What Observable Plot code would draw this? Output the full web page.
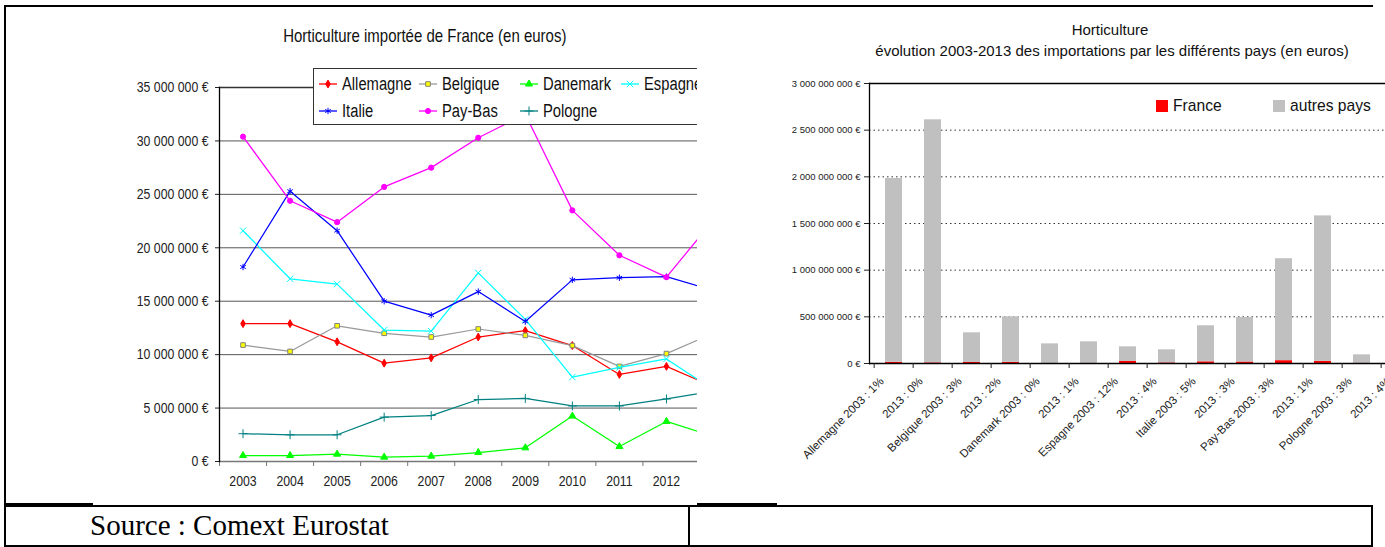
<!DOCTYPE html>
<html><head><meta charset="utf-8">
<script src="https://cdn.jsdelivr.net/npm/d3@7"></script>
<script src="https://cdn.jsdelivr.net/npm/@observablehq/plot@0.6"></script>
<style>
body{margin:0;background:#fff;}
#root{position:relative;width:1385px;height:547px;overflow:hidden;background:#fff;font-family:"Liberation Sans",Arial,sans-serif;color:#111;}
.abs{position:absolute;white-space:nowrap;}
.bl{position:absolute;background:#000;}
.nar{display:inline-block;transform:scaleX(0.82);}
</style></head><body><div id="root"></div>
<script>
// ---------- DATA (left chart: French horticulture exports by country, euros) ----------
const years = [2003, 2004, 2005, 2006, 2007, 2008, 2009, 2010, 2011, 2012, 2013];
const allemagne = [12.9, 12.9, 11.2, 9.2, 9.7, 11.65, 12.25, 10.85, 8.15, 8.9, 7.0];
const belgique  = [10.9, 10.3, 12.7, 12.0, 11.65, 12.4, 11.8, 10.85, 8.9, 10.1, 12.0];
const danemark  = [0.56, 0.56, 0.69, 0.41, 0.5, 0.84, 1.28, 4.25, 1.4, 3.75, 2.35];
const espagne   = [21.6, 17.1, 16.6, 12.3, 12.2, 17.65, 13.3, 7.9, 8.8, 9.6, 6.7];
const italie    = [18.2, 25.3, 21.6, 15.0, 13.7, 15.9, 13.1, 17.0, 17.2, 17.3, 16.0];
const paysBas   = [30.4, 24.4, 22.4, 25.7, 27.5, 30.3, 32.5, 23.5, 19.3, 17.25, 22.6];
const pologne   = [2.6, 2.5, 2.5, 4.15, 4.3, 5.8, 5.9, 5.2, 5.2, 5.85, 6.6];
const leftYTicks = [0, 5e6, 10e6, 15e6, 20e6, 25e6, 30e6, 35e6];
const leftTitle = "Horticulture importée de France (en euros)";

// ---------- DATA (right chart: imports, France vs other countries, millions of euros) ----------
const catLabels = ["Allemagne 2003 : 1%", "2013 : 0%", "Belgique 2003 : 3%", "2013 : 2%",
  "Danemark 2003 : 0%", "2013 : 1%", "Espagne 2003 : 12%", "2013 : 4%", "Italie 2003 : 5%",
  "2013 : 3%", "Pay-Bas 2003 : 3%", "2013 : 1%", "Pologne 2003 : 3%", "2013 : 4%"];
const franceVals = [12.9, 7.0, 10.9, 12.0, 0.56, 2.35, 21.6, 6.7, 18.2, 16.0, 30.4, 22.6, 2.6];
const autresVals = [1969, 2604, 318, 488, 210, 230, 157, 140, 386, 477, 1092, 1559, 90];
const rightYTicks = [0, 5e8, 10e8, 15e8, 20e8, 25e8, 30e8];
const rightTitle1 = "Horticulture";
const rightTitle2 = "évolution 2003-2013  des importations par les différents pays (en euros)";
const source = "Source : Comext Eurostat";

// ---------- RENDER ----------
const SANS = '"Liberation Sans",Arial,sans-serif';
const fmtEuro = d => d3.format(",")(d).replace(/,/g, " ") + " €";
const root = document.getElementById("root");
function add(html, css, parent = root) { const d = document.createElement("div"); d.className = "abs"; Object.assign(d.style, css); d.innerHTML = html; parent.appendChild(d); return d; }
function narrowSvgText(svg, k) {
  svg.querySelectorAll("text").forEach(t => {
    const xa = t.getAttribute("x");
    let pre = "";
    if (xa !== null && /^-?[\d.]+$/.test(xa)) { pre = ` translate(${xa},0)`; t.removeAttribute("x"); }
    const tr = t.getAttribute("transform") || "";
    t.setAttribute("transform", `${tr}${pre} scale(${k},1)`);
  });
}

const series = [
  {name: "Allemagne", values: allemagne, stroke: "#FF0000", symbol: "diamond", fill: "#FF0000", mstroke: "#FF0000", r: 2.4},
  {name: "Belgique", values: belgique, stroke: "#999999", symbol: "square", fill: "#FFFF00", mstroke: "#808080", r: 2.6},
  {name: "Danemark", values: danemark, stroke: "#00FF00", symbol: "triangle", fill: "#00FF00", mstroke: "#00FF00", r: 2.6},
  {name: "Espagne", values: espagne, stroke: "#00FFFF", symbol: "times", fill: "none", mstroke: "#00FFFF", r: 3},
  {name: "Italie", values: italie, stroke: "#0000FF", symbol: "asterisk", fill: "none", mstroke: "#0000FF", r: 3},
  {name: "Pay-Bas", values: paysBas, stroke: "#FF00FF", symbol: "circle", fill: "#FF00FF", mstroke: "#FF00FF", r: 2.6},
  {name: "Pologne", values: pologne, stroke: "#008080", symbol: "plus", fill: "none", mstroke: "#008080", r: 3}
];

const xDomainLeft = [2002.5, 2012.66];
const inDomain = years.filter(y => y <= xDomainLeft[1]);
const lineMarks = series.flatMap(s => {
  const rows = years.map((y, i) => ({year: y, value: s.values[i] * 1e6}));
  return [
    Plot.line(rows, {x: "year", y: "value", stroke: s.stroke, strokeWidth: 1.25, clip: true}),
    Plot.dot(rows, {x: "year", y: "value", symbol: s.symbol, r: s.r, fill: s.fill, stroke: s.mstroke, strokeWidth: 1, clip: true})
  ];
});

const leftWrap = add("", {left: "0px", top: "0px", width: "697px", height: "500px", overflow: "hidden"});
const leftPlot = Plot.plot({
  width: 697, height: 500,
  marginLeft: 219, marginRight: 0, marginTop: 87, marginBottom: 39,
  style: {fontFamily: SANS, fontSize: "15px", color: "#222", background: "transparent", maxWidth: "none"},
  x: {type: "linear", domain: xDomainLeft},
  y: {domain: [0, 35e6]},
  marks: [
    Plot.ruleY(leftYTicks.slice(1, -1), {stroke: "#555", strokeWidth: 1}),
    Plot.ruleY([35e6], {stroke: "#333", strokeWidth: 1.5}),
    Plot.ruleY([0], {stroke: "#777", strokeWidth: 1.3}),
    Plot.axisY({ticks: leftYTicks, tickSize: 4, tickPadding: 7, tickFormat: fmtEuro, fontSize: 15, label: null}),
    Plot.axisX({ticks: inDomain.map(y => y - 0.5), tickSize: 5, tickFormat: () => "", stroke: "#777", label: null}),
    Plot.axisX({ticks: inDomain, tickSize: 0, tickPadding: 14, tickFormat: d => String(d), fontSize: 15, label: null}),
    ...lineMarks,
    Plot.frame({anchor: "left", stroke: "#000", strokeWidth: 1.3})
  ]
});
narrowSvgText(leftPlot, 0.82);
leftWrap.appendChild(leftPlot);

// left legend (clipped with the chart)
const legend = document.createElement("div");
Object.assign(legend.style, {position: "absolute", left: "313px", top: "68px", width: "420px", height: "55px", border: "1.5px solid #333", background: "#fff"});
leftWrap.appendChild(legend);
const symMap = {circle: d3.symbolCircle, square: d3.symbolSquare, diamond: d3.symbolDiamond, triangle: d3.symbolTriangle, times: d3.symbolTimes, asterisk: d3.symbolAsterisk, plus: d3.symbolPlus};
const colX = [319, 419, 520, 621];
series.forEach((s, k) => {
  const row = k < 4 ? 0 : 1, col = k < 4 ? k : k - 4;
  const cy = row === 0 ? 84 : 111;
  const svg = d3.create("svg").attr("width", 20).attr("height", 12)
    .style("position", "absolute").style("left", (colX[col] - 1) + "px").style("top", (cy - 6) + "px");
  svg.append("line").attr("x1", 1).attr("x2", 19).attr("y1", 6).attr("y2", 6).attr("stroke", s.stroke).attr("stroke-width", 1.3);
  svg.append("path").attr("d", d3.symbol(symMap[s.symbol], Math.PI * s.r * s.r)()).attr("transform", "translate(10,6)")
    .attr("fill", s.fill).attr("stroke", s.mstroke);
  leftWrap.appendChild(svg.node());
  add(`<span class="nar" style="transform-origin:left center">${s.name}</span>`,
    {left: (colX[col] + 23) + "px", top: (cy - 11) + "px", fontSize: "18px", lineHeight: "22px", color: "#111"}, leftWrap);
});

// right chart
const barRows = [];
franceVals.forEach((v, i) => {
  barRows.push({i, serie: "France", value: v * 1e6});
  barRows.push({i, serie: "autres pays", value: autresVals[i] * 1e6});
});
const RW = 725, RML = 169;
const step = (RW - RML) / catLabels.length;
const rightWrap = add("", {left: "700px", top: "0px", width: "685px", height: "500px", overflow: "hidden"});
const rightPlot = Plot.plot({
  width: RW, height: 500,
  marginLeft: RML, marginRight: 0, marginTop: 83, marginBottom: 137,
  style: {fontFamily: SANS, fontSize: "10px", color: "#222", background: "transparent", maxWidth: "none"},
  x: {type: "band", domain: d3.range(catLabels.length), paddingInner: 0.57, paddingOuter: 0.285, align: 0.5},
  y: {domain: [0, 3e9]},
  color: {domain: ["France", "autres pays"], range: ["#FF0000", "#C0C0C0"]},
  marks: [
    Plot.ruleY(rightYTicks.slice(1, -1), {stroke: "#333", strokeDasharray: "1.5,3"}),
    Plot.ruleY([3e9], {stroke: "#000", strokeWidth: 1.5}),
    Plot.barY(barRows, {x: "i", y: "value", fill: "serie"}),
    Plot.ruleY([0], {stroke: "#000", strokeWidth: 1.3}),
    Plot.frame({anchor: "left", stroke: "#000", strokeWidth: 1.3}),
    Plot.axisY({ticks: rightYTicks, tickSize: 5, tickPadding: 4, tickFormat: fmtEuro, fontSize: 9.5, label: null}),
    Plot.axisX({ticks: d3.range(catLabels.length), tickSize: 5, tickFormat: () => "", dx: -step / 2, label: null}),
    Plot.axisX({ticks: d3.range(catLabels.length), tickSize: 0, tickPadding: 16, tickRotate: -45, dx: -12, tickFormat: i => catLabels[i], fontSize: 11.5, label: null})
  ]
});
rightWrap.appendChild(rightPlot);

// titles
add(`<span class="nar" style="transform:scaleX(0.81);transform-origin:center">${leftTitle}</span>`,
  {left: "175px", width: "500px", textAlign: "center", top: "25px", fontSize: "18.5px", lineHeight: "22px"});
add(rightTitle1, {left: "860px", width: "500px", textAlign: "center", top: "21px", fontSize: "15px", lineHeight: "18px"});
add(rightTitle2, {left: "862px", width: "500px", textAlign: "center", top: "42px", fontSize: "15px", lineHeight: "18px"});

// right legend
add("", {left: "1156px", top: "100px", width: "12px", height: "12px", background: "#FF0000"});
add(`<span class="nar" style="transform:scaleX(0.92);transform-origin:left center">France</span>`, {left: "1173px", top: "95px", fontSize: "17px", lineHeight: "22px"});
add("", {left: "1273px", top: "100px", width: "12px", height: "12px", background: "#C0C0C0"});
add(`<span class="nar" style="transform:scaleX(0.92);transform-origin:left center">autres pays</span>`, {left: "1290px", top: "95px", fontSize: "17px", lineHeight: "22px"});

// frame & table
function bl(l, t, w, h) { const d = document.createElement("div"); d.className = "bl"; Object.assign(d.style, {left: l + "px", top: t + "px", width: w + "px", height: h + "px"}); root.appendChild(d); }
bl(4, 5, 1369, 2);
bl(4, 5, 2, 542);
bl(4, 545, 1369, 2);
bl(4, 505, 1369, 2);
bl(4, 503, 89, 2);
bl(697, 503, 80, 2);
bl(688, 505, 2, 41);
bl(1371, 505, 2, 42);
add(source, {left: "90px", top: "508px", fontFamily: '"Liberation Serif","Times New Roman",serif', fontSize: "29px", lineHeight: "34px", color: "#000"});
</script></body></html>
